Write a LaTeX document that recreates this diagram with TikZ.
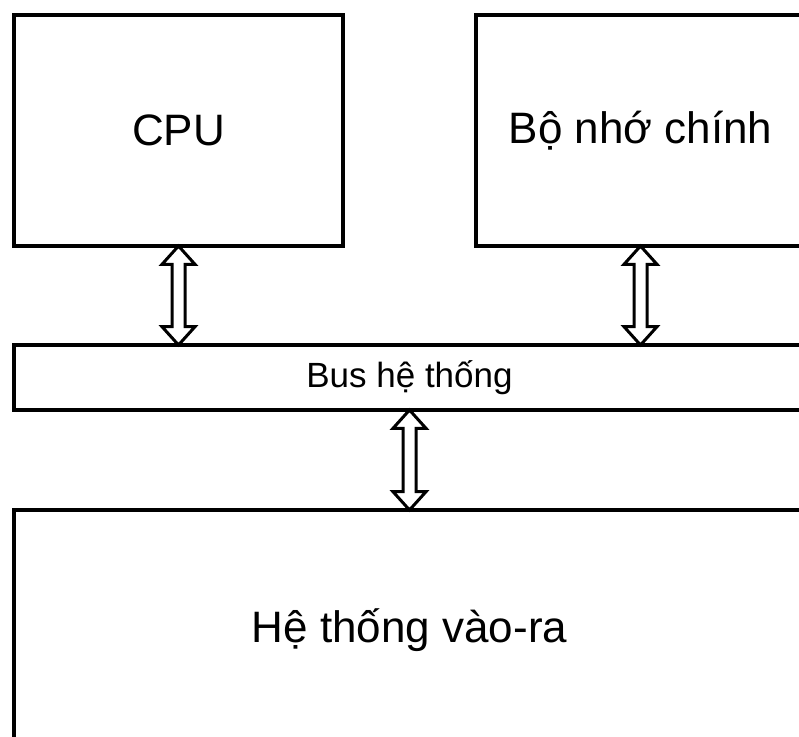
\documentclass[tikz,border=0pt]{standalone}
\usepackage{fontspec}
\setmainfont{Liberation Sans}
\usetikzlibrary{shapes,shapes.arrows,calc}
\tikzstyle{block} = [rectangle, draw, line width=3.2pt, inner sep=0pt,
    outer sep=0pt, anchor=north west, font=\fontsize{44}{50}\selectfont]
\tikzstyle{busbar} = [block, font=\fontsize{35}{40}\selectfont]
\tikzstyle{link} = [double arrow, draw, line width=3pt, fill=white,
    shape border rotate=90, inner sep=5pt,
    double arrow head extend=10pt, double arrow head indent=0pt,
    double arrow tip angle=84]

\begin{document}
\begin{tikzpicture}[x=1pt, y=-1pt]
    \useasboundingbox (0,0) rectangle (799,736);
    \clip (0,0) rectangle (799,736);
    % Place nodes
    \node [block, minimum width=329pt, minimum height=231pt] (cpu) at (14,15) {CPU};
    \node [block, minimum width=329pt, minimum height=231pt] (mem) at (476,15) {Bộ nhớ chính};
    \node [busbar, minimum width=791pt, minimum height=65pt] (bus) at (14,345) {Bus hệ thống};
    \node [block, minimum width=791pt, minimum height=240pt] (io) at (14,510) {Hệ thống vào-ra};
    % Draw edges
    \node [link, minimum height=99pt] (cpubus) at ($(cpu.south)!.5!(cpu.south |- bus.north)$) {};
    \node [link, minimum height=99pt] (membus) at ($(mem.south)!.5!(mem.south |- bus.north)$) {};
    \node [link, minimum height=100pt] (busio) at ($(bus.south)!.5!(bus.south |- io.north)$) {};
\end{tikzpicture}
\end{document}
